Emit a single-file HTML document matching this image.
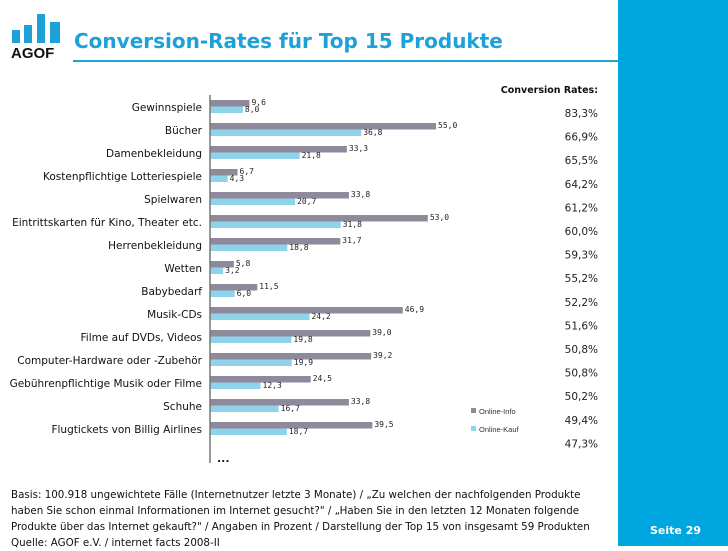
<!DOCTYPE html>
<html><head><meta charset="utf-8"><style>
body{margin:0;width:728px;height:546px;position:relative;background:#fff;font-family:"DejaVu Sans",Verdana,sans-serif;overflow:hidden}
.abs{position:absolute}
</style></head><body>
<div class="abs" style="left:618px;top:0;width:110px;height:546px;background:#00a6df"></div>
<div class="abs" style="left:650px;top:524px;color:#fff;font-weight:bold;font-size:11px">Seite 29</div>
<svg class="abs" style="left:0;top:0" width="70" height="62">
<rect x="12" y="30" width="8" height="13" fill="#1ea0d8"/><rect x="24" y="25" width="8" height="18" fill="#1ea0d8"/><rect x="37" y="14" width="8" height="29" fill="#1ea0d8"/><rect x="50" y="22" width="10" height="21" fill="#1ea0d8"/>
<text x="11" y="58" font-family="Liberation Sans,sans-serif" font-weight="bold" font-size="15" fill="#111">AGOF</text></svg>
<div class="abs" style="left:74px;top:29px;color:#1ea0d8;font-weight:bold;font-size:20px">Conversion-Rates für Top 15 Produkte</div>
<div class="abs" style="left:73px;top:60px;width:545px;height:2px;background:#1ea0d8"></div>
<svg class="abs" id="chart" style="left:0;top:0" width="618" height="546"></svg>
<div class="abs" style="left:11px;top:487px;font-size:10.3px;line-height:16px;color:#111;white-space:nowrap">Basis: 100.918 ungewichtete Fälle (Internetnutzer letzte 3 Monate) / „Zu welchen der nachfolgenden Produkte<br>haben Sie schon einmal Informationen im Internet gesucht?" / „Haben Sie in den letzten 12 Monaten folgende<br>Produkte über das Internet gekauft?" / Angaben in Prozent / Darstellung der Top 15 von insgesamt 59 Produkten<br>Quelle: AGOF e.V. / internet facts 2008-II</div>
<script>
const categories=["Gewinnspiele","Bücher","Damenbekleidung","Kostenpflichtige Lotteriespiele","Spielwaren","Eintrittskarten für Kino, Theater etc.","Herrenbekleidung","Wetten","Babybedarf","Musik-CDs","Filme auf DVDs, Videos","Computer-Hardware oder -Zubehör","Gebührenpflichtige Musik oder Filme","Schuhe","Flugtickets von Billig Airlines"];
const onlineInfo=[9.6,55.0,33.3,6.7,33.8,53.0,31.7,5.8,11.5,46.9,39.0,39.2,24.5,33.8,39.5];
const onlineKauf=[8.0,36.8,21.8,4.3,20.7,31.8,18.8,3.2,6.0,24.2,19.8,19.9,12.3,16.7,18.7];
const conversionRates=["83,3%","66,9%","65,5%","64,2%","61,2%","60,0%","59,3%","55,2%","52,2%","51,6%","50,8%","50,8%","50,2%","49,4%","47,3%"];
const NS="http://www.w3.org/2000/svg",svg=document.getElementById('chart');
const x0=210,pxPer=4.11,rowY=i=>100+i*23,rateY=i=>117+i*23.6,bh=6.5;
const xs=v=>v*pxPer;
function mk(t,a,txt){const e=document.createElementNS(NS,t);for(const k in a)e.setAttribute(k,a[k]);if(txt!=null)e.textContent=txt;svg.appendChild(e);return e;}
categories.forEach((c,i)=>{
 const y=rowY(i);
 let e=mk('text',{x:202,y:y+11,'text-anchor':'end','font-size':'10.5','font-family':'DejaVu Sans,sans-serif',fill:'#111'},c);
 
 
 e=mk('rect',{x:x0,y:y,width:xs(onlineInfo[i]),height:bh,fill:'#8e8a9c'});
 
 
 e=mk('rect',{x:x0,y:y+bh,width:xs(onlineKauf[i]),height:bh,fill:'#8fd3ea'});
 
 
 e=mk('text',{x:x0+xs(onlineInfo[i])+2,y:y+5,'font-size':'8','font-family':'DejaVu Sans Mono,monospace',fill:'#222'},onlineInfo[i].toFixed(1).replace('.',','));
 
 
 e=mk('text',{x:x0+xs(onlineKauf[i])+2,y:y+12,'font-size':'8','font-family':'DejaVu Sans Mono,monospace',fill:'#222'},onlineKauf[i].toFixed(1).replace('.',','));
 
 
 e=mk('text',{x:598,y:rateY(i),'text-anchor':'end','font-size':'10.5','font-family':'DejaVu Sans,sans-serif',fill:'#222'},conversionRates[i]);
 
 
});
let a=mk('line',{x1:x0,y1:95,x2:x0,y2:463,stroke:'#777','stroke-width':1.5});


a=mk('text',{x:217,y:462,'font-size':'11','font-weight':'bold','font-family':'DejaVu Sans,sans-serif',fill:'#222'},'...');


a=mk('text',{x:598,y:93,'text-anchor':'end','font-size':'9.5','font-weight':'bold','font-family':'DejaVu Sans,sans-serif',fill:'#111'},'Conversion Rates:');


[["Online-Info","#8e8a9c",408],["Online-Kauf","#8fd3ea",426]].forEach(l=>{
 let r=mk('rect',{x:471,y:l[2],width:5,height:5,fill:l[1]});
 
 
 r=mk('text',{x:479,y:l[2]+6,'font-size':'7.5','font-family':'Liberation Sans,sans-serif',fill:'#333'},l[0]);
 
 
});
</script>
</body></html>
